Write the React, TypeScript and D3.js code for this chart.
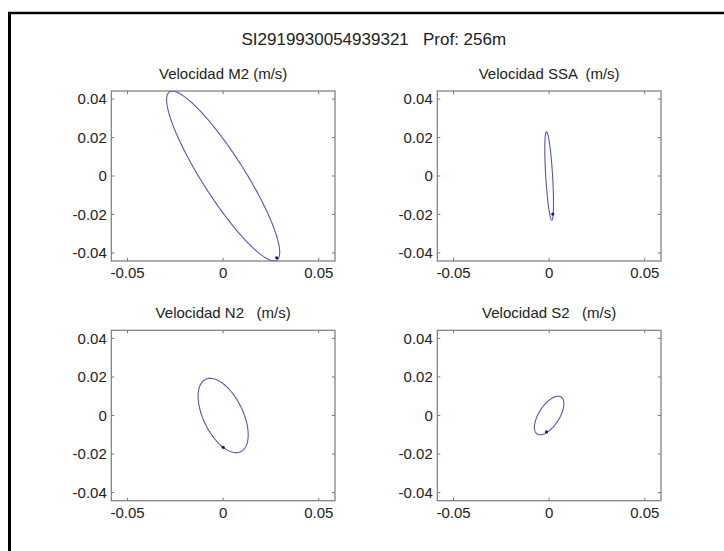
import React from "react";
import * as d3 from "d3";

// Tidal current ellipses (m/s)
const mainTitle = "SI2919930054939321   Prof: 256m";
const constituents = ["M2", "SSA", "N2", "S2"];
const panelTitles = [
  "Velocidad M2 (m/s)",
  "Velocidad SSA  (m/s)",
  "Velocidad N2   (m/s)",
  "Velocidad S2   (m/s)",
];
const semiMajor = [0.052, 0.023, 0.0209, 0.01144];
const semiMinor = [0.011, 0.0018, 0.01033, 0.00534];
const inclination = [122.7, 93.5, 116.3, 56.7]; // degrees from east
const markerX = [0.028, 0.0019, 0.0, -0.0014];
const markerY = [-0.0425, -0.0198, -0.0165, -0.0085];

const xTicks = [-0.05, 0, 0.05];
const yTicks = [-0.04, -0.02, 0, 0.02, 0.04];
const xLimits = [-0.0585, 0.0585];
const yLimits = [-0.0442, 0.0442];

const FONT = "'Liberation Sans', Arial, Helvetica, sans-serif";
const LINE = "#5656b8";
const BOX = "#7a7a7a";

// panel boxes: left, top, right, bottom
const panels = [
  [111.3, 91, 335, 261],
  [437.3, 91, 661, 261],
  [111.3, 330.3, 335, 500.7],
  [437.3, 330.3, 661, 500.7],
];

function fmt(v) {
  if (v === 0) return "0";
  return v.toFixed(2);
}

function Panel({ i }) {
  const [l, t, r, b] = panels[i];
  const x = d3.scaleLinear().domain(xLimits).range([l, r]);
  const y = d3.scaleLinear().domain(yLimits).range([b, t]);

  const a = semiMajor[i];
  const bm = semiMinor[i];
  const phi = (inclination[i] * Math.PI) / 180;
  const angles = d3.range(0, 361, 2).map((d) => (d * Math.PI) / 180);
  const pts = angles.map((th) => [
    a * Math.cos(th) * Math.cos(phi) - bm * Math.sin(th) * Math.sin(phi),
    a * Math.cos(th) * Math.sin(phi) + bm * Math.sin(th) * Math.cos(phi),
  ]);
  const line = d3
    .line()
    .x((d) => x(d[0]))
    .y((d) => y(d[1]));

  const tl = 3;
  const clipId = "clip-" + constituents[i];

  return (
    <g>
      <defs>
        <clipPath id={clipId}>
          <rect x={l} y={t} width={r - l} height={b - t} />
        </clipPath>
      </defs>
      <text
        x={(l + r) / 2}
        y={t - 12}
        textAnchor="middle"
        fontSize={15}
        fontFamily={FONT}
        fill="#222"
        style={{ whiteSpace: "pre" }}
      >
        {panelTitles[i]}
      </text>
      <rect x={l} y={t} width={r - l} height={b - t} fill="white" stroke={BOX} strokeWidth={1.2} />
      {xTicks.map((v) => (
        <g key={"x" + v}>
          <line x1={x(v)} x2={x(v)} y1={b} y2={b - tl} stroke={BOX} />
          <line x1={x(v)} x2={x(v)} y1={t} y2={t + tl} stroke={BOX} />
          <text x={x(v)} y={b + 17} textAnchor="middle" fontSize={15} fontFamily={FONT} fill="#222">
            {fmt(v)}
          </text>
        </g>
      ))}
      {yTicks.map((v) => (
        <g key={"y" + v}>
          <line x1={l} x2={l + tl} y1={y(v)} y2={y(v)} stroke={BOX} />
          <line x1={r} x2={r - tl} y1={y(v)} y2={y(v)} stroke={BOX} />
          <text x={l - 4.5} y={y(v)} dy="0.36em" textAnchor="end" fontSize={15} fontFamily={FONT} fill="#222">
            {fmt(v)}
          </text>
        </g>
      ))}
      <g clipPath={`url(#${clipId})`}>
        <path d={line(pts)} fill="none" stroke={LINE} strokeWidth={1.1} />
        <circle cx={x(markerX[i])} cy={y(markerY[i])} r={1.6} fill="#1c1c5a" />
      </g>
    </g>
  );
}

export default function App() {
  return (
    <svg
      width={724}
      height={551}
      style={{ position: "absolute", left: 0, top: 0, background: "white" }}
    >
      <rect x={0} y={0} width={724} height={551} fill="white" />
      <line x1={9.5} x2={9.5} y1={12} y2={551} stroke="#000" strokeWidth={3} />
      <line x1={8} x2={724} y1={13} y2={13} stroke="#000" strokeWidth={2.5} />
      <text
        x={373.8}
        y={44.5}
        textAnchor="middle"
        fontSize={17}
        fontFamily={FONT}
        fill="#222"
        style={{ whiteSpace: "pre" }}
      >
        {mainTitle}
      </text>
      {constituents.map((c, i) => (
        <Panel key={c} i={i} />
      ))}
    </svg>
  );
}
